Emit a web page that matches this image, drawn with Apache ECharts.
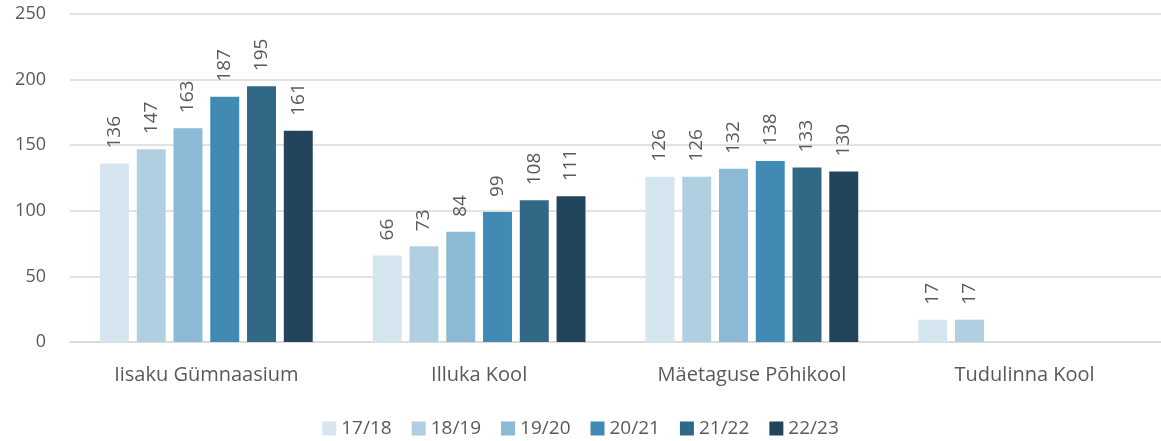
<!DOCTYPE html>
<html>
<head>
<meta charset="utf-8">
<script src="https://cdn.jsdelivr.net/npm/echarts@6/dist/echarts.min.js"></script>
<style>
  html, body { margin: 0; padding: 0; background: #fff; }
  #chart { width: 1161px; height: 441px; }
</style>
</head>
<body>
<div id="chart"></div>
<script>
// koolid
const schools = ['Iisaku Gümnaasium', 'Illuka Kool', 'Mäetaguse Põhikool', 'Tudulinna Kool']
const years = ['17/18', '18/19', '19/20', '20/21', '21/22', '22/23']
const colors = ['#d6e6f0', '#b0cfe1', '#8bb9d6', '#418ab4', '#306886', '#22455c']

// õpilaste arv õppeaastate kaupa (null = kool puudub)
const y1718 = [136, 66, 126, 17]
const y1819 = [147, 73, 126, 17]
const y1920 = [163, 84, 132, null]
const y2021 = [187, 99, 138, null]
const y2122 = [195, 108, 133, null]
const y2223 = [161, 111, 130, null]
const values = [y1718, y1819, y1920, y2021, y2122, y2223]

const yTicks = { min: 0, max: 250, interval: 50 }

const font = '"Open Sans", "Noto Sans", sans-serif'
const grey = '#595959'

const myChart = echarts.init(document.getElementById('chart'))

const option = {
  animation: false,
  grid: {
    left: 70,
    right: 0,
    top: 14,
    bottom: 99
  },
  legend: {
    bottom: -2,
    left: 'center',
    itemWidth: 14,
    itemHeight: 14,
    itemGap: 20,
    icon: 'rect',
    textStyle: { color: grey, fontSize: 19, fontFamily: font },
    data: years
  },
  xAxis: {
    type: 'category',
    data: schools,
    axisTick: { show: false },
    axisLine: { show: true, lineStyle: { color: '#d9d9d9', width: 1.5 } },
    axisLabel: { color: grey, fontSize: 20, fontFamily: font, margin: 23 }
  },
  yAxis: {
    type: 'value',
    min: yTicks.min,
    max: yTicks.max,
    interval: yTicks.interval,
    axisLine: { show: false },
    axisTick: { show: false },
    splitLine: { lineStyle: { color: '#d9d9d9', width: 1.5 } },
    axisLabel: { color: grey, fontSize: 18, fontFamily: font, margin: 24, align: 'right' }
  },
  series: years.map((y, i) => ({
    name: y,
    type: 'bar',
    data: values[i],
    barGap: '27%',
    barCategoryGap: '22%',
    itemStyle: { color: colors[i] },
    label: {
      show: true,
      position: 'top',
      rotate: 90,
      align: 'left',
      verticalAlign: 'middle',
      distance: 15,
      color: grey,
      fontSize: 19,
      fontFamily: font
    }
  }))
}

myChart.setOption(option)
</script>
</body>
</html>
